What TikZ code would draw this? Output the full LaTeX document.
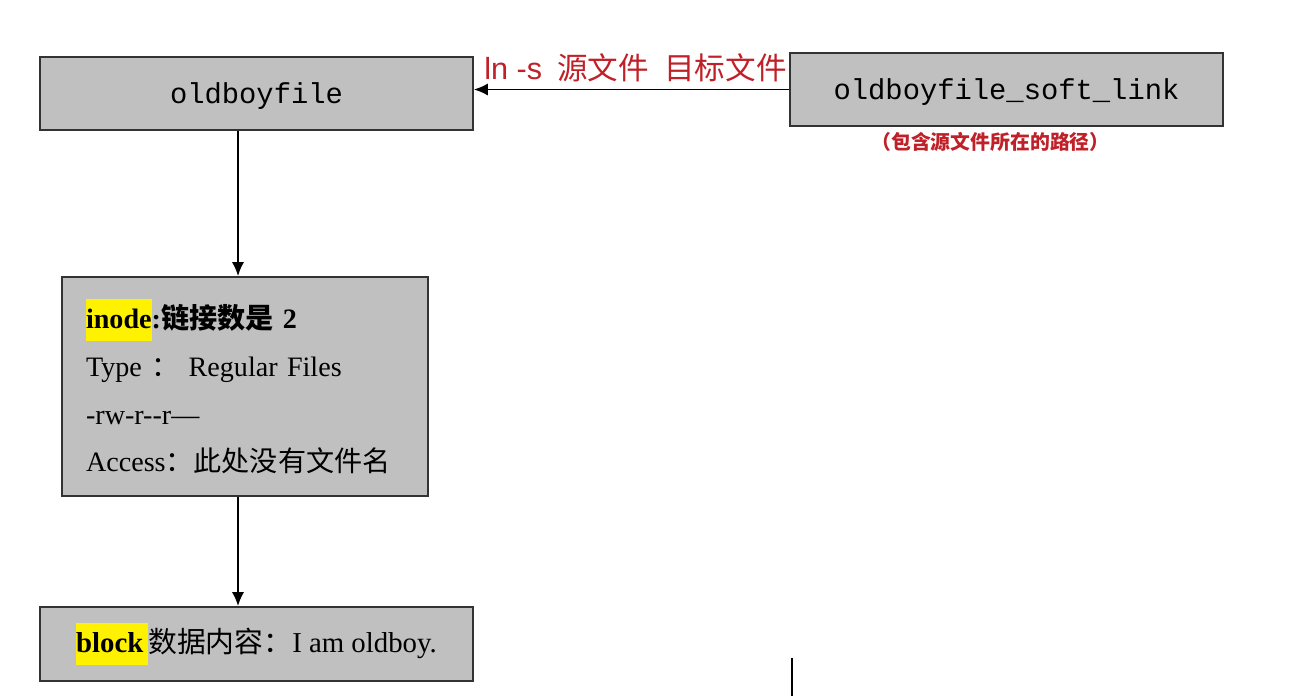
\documentclass[tikz,border=0pt]{standalone}
\usepackage{fontspec}
\setmainfont{Liberation Serif}
\setmonofont{Liberation Mono}
\newfontfamily\cjk{Noto Sans CJK SC}
\newfontfamily\labelfont{Liberation Sans}
\usetikzlibrary{arrows.meta,positioning}

\definecolor{boxgray}{RGB}{192,192,192}
\definecolor{linkred}{RGB}{192,32,40}
\newcommand{\hlword}[1]{{\setlength{\fboxsep}{0pt}\colorbox{yellow}{\rule[-7pt]{0pt}{24pt}\textbf{#1}}}}

\begin{document}
\begin{tikzpicture}[x=0.02cm, y=-0.02cm,
  filebox/.style={draw=black!80, line width=1pt, fill=boxgray, inner sep=0pt},
  arrow/.style={-{Latex[length=8pt,width=7pt]}, line width=1.1pt}]
  \useasboundingbox (0,0) rectangle (1304,696);

  % Draw boxes
  \node (oldboy) [filebox, minimum width=8.66cm, minimum height=1.46cm, text height=14pt, text depth=3pt,
    font=\fontsize{16.4}{18}\ttfamily] at (256.5,93.5) {oldboyfile};
  \node (soft) [filebox, minimum width=8.66cm, minimum height=1.46cm, text height=14pt, text depth=3pt,
    font=\fontsize{16.4}{18}\ttfamily] at (1006.5,89.5) {oldboyfile\_soft\_link};
  \node (inode) [filebox, minimum width=7.32cm, minimum height=4.38cm,
    text width=6.36cm, align=left, font=\fontsize{16}{27.2}\selectfont] at (245,386.5)
    {\hlword{inode}\textbf{:{\cjk 链接数是} 2}\\
     Type {\cjk ：} Regular Files\\
     -rw-r-{}-r—\\
     Access{\cjk ：此处没有文件名}};
  \node (block) [filebox, minimum width=8.66cm, minimum height=1.48cm,
    font=\fontsize{16.4}{18}\selectfont] at (256.5,644)
    {\hlword{block\,}{\cjk 数据内容：}I am oldboy.};

  % Draw note
  \node (pathnote) [below=3pt of soft.south, xshift=-0.32cm, inner sep=0pt,
    text=linkred, font=\fontsize{11.3}{13}\cjk\bfseries] {（包含源文件所在的路径）};

  % Draw arrows
  \draw [arrow] (soft.west) -- node [above, inner sep=4pt, xshift=0.08cm, text=linkred,
    font=\fontsize{17.4}{20}\labelfont] {ln -s\hspace{0.5em}{\cjk 源文件}\hspace{0.5em}{\cjk 目标文件}}
    (soft.west -| oldboy.east);
  \draw [arrow] ([xshift=-0.37cm]oldboy.south) -- ([xshift=-0.37cm]oldboy.south |- inode.north);
  \draw [arrow] ([xshift=-0.14cm]inode.south) -- ([xshift=-0.14cm]inode.south |- block.north);

  % Draw line going off the page
  \coordinate (stubtop) at (792,658);
  \coordinate (stubbot) at (792,696);
  \draw [line width=1.1pt] (stubtop) -- (stubbot);
\end{tikzpicture}
\end{document}
